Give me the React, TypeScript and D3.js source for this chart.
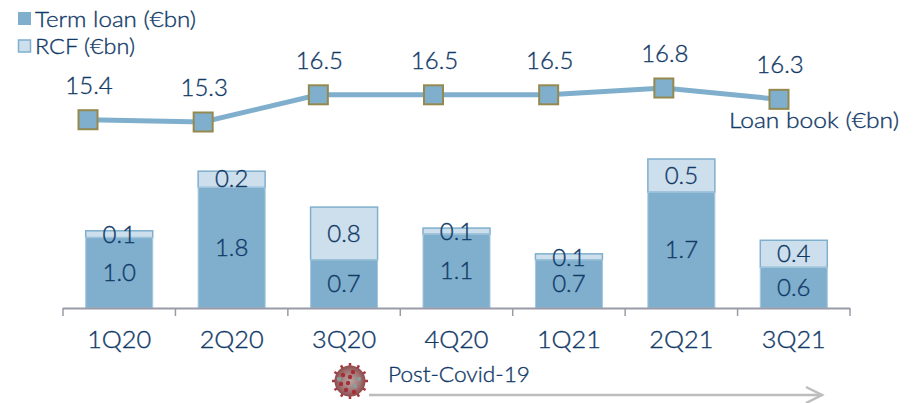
import React from "react";
import { scaleBand, scaleLinear, scalePoint, line as d3line, range } from "d3";

const categories = ["1Q20", "2Q20", "3Q20", "4Q20", "1Q21", "2Q21", "3Q21"];
const termLoan = [1.04, 1.78, 0.71, 1.09, 0.71, 1.71, 0.6];
const rcf = [0.1, 0.24, 0.78, 0.09, 0.09, 0.49, 0.4];
const loanBook = [15.4, 15.3, 16.5, 16.5, 16.5, 16.8, 16.3];

const NAVY = "#123a68";
const BLUE = "#7fafcd";
const PALE = "#cddfec";
const FONT = "Lato, 'Open Sans', sans-serif";

const x = scaleBand<string>().domain(categories).range([63, 850]);
const xl = scalePoint<string>().domain(categories).range([88, 779]);
const y = scaleLinear().domain([0, 2.2]).range([308, 159]);
const yl = scaleLinear().domain([15.3, 16.8]).range([122, 88]);

const spikes = range(0, 360, 30);
const inner = [
  [-7, -6], [3, -9], [9, -2], [-9, 3], [-2, 2], [5, 5], [-4, 9], [4, 11], [-11, -2], [0, -4],
];

export default function App() {
  const bw = x.bandwidth();
  const barW = 67;
  const cx = (c: string) => (x(c) as number) + bw / 2;
  const path = d3line<number>().x((_, i) => xl(categories[i]) as number).y((v) => yl(v))(loanBook) as string;
  const textStyle = { stroke: NAVY, strokeWidth: 0.35 };
  return (
    <svg width={920} height={403} style={{ position: "absolute", left: 0, top: 0, background: "#fff" }} fontFamily={FONT} fontWeight={300}>
      <defs>
        <radialGradient id="virus" cx="50%" cy="50%" r="50%">
          <stop offset="0%" stopColor="#b9a9a9" />
          <stop offset="65%" stopColor="#a07474" />
          <stop offset="100%" stopColor="#8f4a4c" />
        </radialGradient>
      </defs>
      {/* legend */}
      <rect x={18} y={12} width={13} height={13} fill={BLUE} />
      <text x={35} y={27} fontSize={22} fill={NAVY} style={textStyle} textLength={161} lengthAdjust="spacingAndGlyphs">Term loan (€bn)</text>
      <rect x={18.5} y={40} width={12} height={12} fill={PALE} stroke={BLUE} strokeWidth={1.5} />
      <text x={35} y={54} fontSize={22} fill={NAVY} style={textStyle} textLength={100} lengthAdjust="spacingAndGlyphs">RCF (€bn)</text>

      {/* bars */}
      {categories.map((c, i) => {
        const t = y(termLoan[i]);
        const top = y(termLoan[i] + rcf[i]);
        const bx = cx(c) - barW / 2;
        return (
          <g key={c}>
            <rect x={bx} y={top} width={barW} height={t - top} fill={PALE} stroke={BLUE} strokeWidth={1.5} />
            <rect x={bx} y={t} width={barW} height={308 - t} fill={BLUE} stroke="#a5c7de" strokeWidth={1} />
          </g>
        );
      })}

      {/* axis */}
      <path d={`M63 308.5H${x.range()[1]}`} stroke="#9a9ba8" strokeWidth={2} fill="none" />
      {range(categories.length + 1).map((i) => {
        const tx = 63 + i * bw;
        return <line key={i} x1={tx} x2={tx} y1={308} y2={316} stroke="#9a9ba8" strokeWidth={1.5} />;
      })}

      {/* bar labels */}
      {categories.map((c, i) => {
        const t = y(termLoan[i]);
        const top = y(termLoan[i] + rcf[i]);
        const tall = t - top > 14;
        const rcfY = tall ? (t + top) / 2 + 8 : top + 12;
        const tY = (t + 308) / 2 + 8;
        return (
          <g key={c} fontSize={24} fill={NAVY} textAnchor="middle" style={textStyle}>
            <text x={cx(c)} y={rcfY}>{rcf[i].toFixed(1)}</text>
            <text x={cx(c)} y={tY}>{termLoan[i].toFixed(1)}</text>
          </g>
        );
      })}

      {/* category labels */}
      {categories.map((c) => (
        <text key={c} x={cx(c)} y={348} fontSize={24} fill={NAVY} style={textStyle} textAnchor="middle" textLength={64} lengthAdjust="spacingAndGlyphs">{c}</text>
      ))}

      {/* loan book line */}
      <path d={path} fill="none" stroke={BLUE} strokeWidth={5} />
      {loanBook.map((v, i) => {
        const c = categories[i];
        const px = xl(c) as number;
        return (
          <g key={c}>
            <rect x={px - 9.5} y={yl(v) - 9.5} width={19} height={19} fill={BLUE} stroke="#94894f" strokeWidth={2} />
            <text x={px + 1} y={yl(v) - 26} fontSize={24} fill={NAVY} style={textStyle} textAnchor="middle">{v.toFixed(1)}</text>
          </g>
        );
      })}
      <text x={729} y={128} fontSize={22} fill={NAVY} style={textStyle} textLength={170} lengthAdjust="spacingAndGlyphs">Loan book (€bn)</text>

      {/* post-covid */}
      <g transform="translate(350,381)">
        {spikes.map((a) => (
          <line key={a} x1={0} y1={0} x2={18 * Math.cos((a * Math.PI) / 180)} y2={18 * Math.sin((a * Math.PI) / 180)} stroke="#a8363c" strokeWidth={2.5} />
        ))}
        <circle r={15.5} fill="url(#virus)" />
        {inner.map(([a, b], i) => (
          <circle key={i} cx={a} cy={b} r={2.2} fill={i % 3 === 2 ? "#8d9c98" : "#a52f36"} />
        ))}
      </g>
      <text x={388} y={382} fontSize={21} fill={NAVY} style={textStyle} textLength={142} lengthAdjust="spacingAndGlyphs">Post-Covid-19</text>
      <path d="M369 395H821" stroke="#bdbdbd" strokeWidth={2.5} fill="none" />
      <path d="M806 387L822 395L806 403" stroke="#bdbdbd" strokeWidth={2.5} fill="none" />
    </svg>
  );
}
